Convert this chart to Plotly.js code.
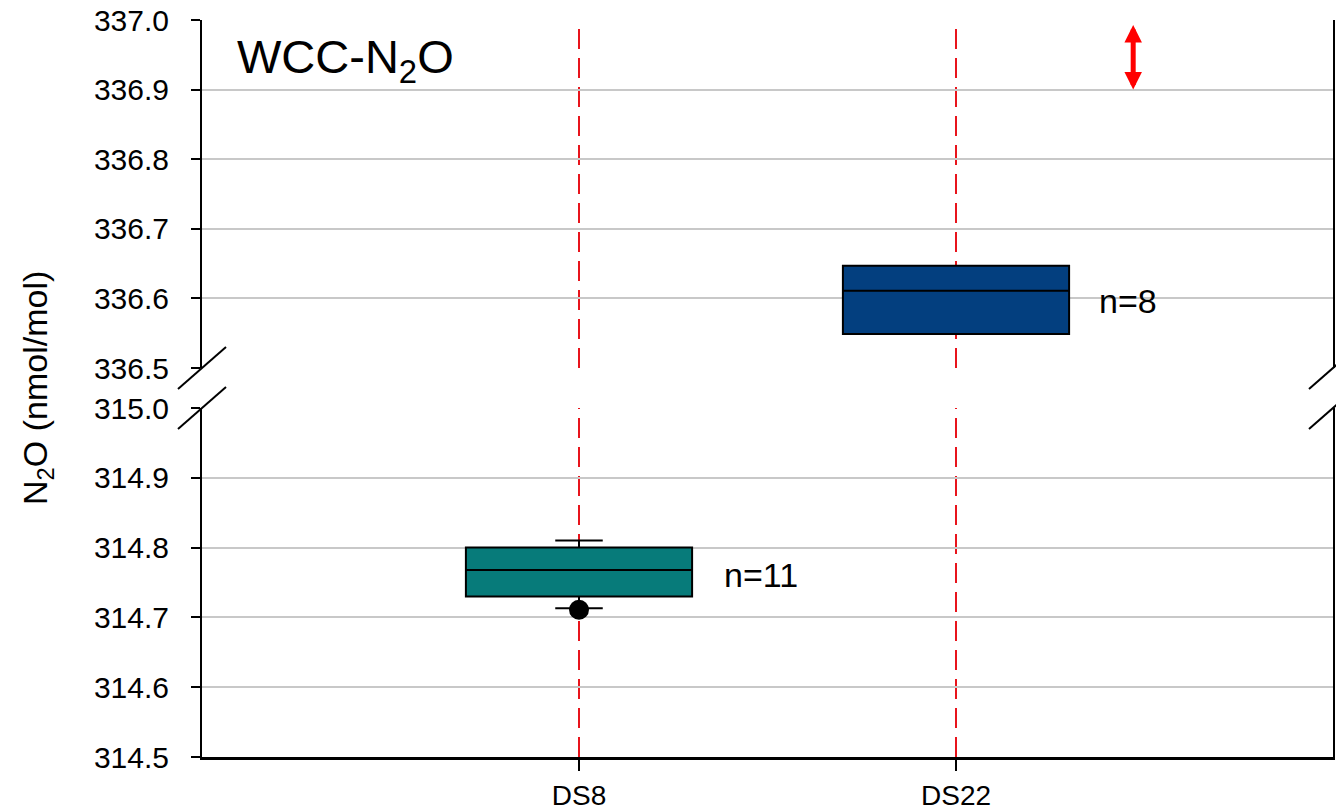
<!DOCTYPE html>
<html>
<head>
<meta charset="utf-8">
<script src="https://cdn.plot.ly/plotly-3.0.1.min.js"></script>
<style>html,body{margin:0;padding:0;background:#fff;}#chart{width:1336px;height:811px;}</style>
</head>
<body>
<div id="chart"></div>
<script>
// ---- data ----
const sites = ['DS8', 'DS22'];
const sitePos = [1, 2];
const q1 = [314.730, 336.549];
const median = [314.768, 336.611];
const q3 = [314.800, 336.647];
const lowerWhisker = [314.713, 336.549];
const upperWhisker = [314.810, 336.647];
const outlierY = [314.711];
const nLabels = ['n=11', 'n=8'];
const fills = ['#077B7A', '#033F7F'];
const upperRange = [336.5, 337.0];
const lowerRange = [314.5, 315.0];

const traces = [];
// DS8 on lower panel
traces.push({
  type: 'box', x: [sitePos[0]], q1: [q1[0]], median: [median[0]], q3: [q3[0]],
  lowerfence: [lowerWhisker[0]], upperfence: [upperWhisker[0]],
  xaxis: 'x', yaxis: 'y', width: 0.6, whiskerwidth: 0.21,
  fillcolor: fills[0], line: {color: '#000', width: 2}, boxpoints: false,
  hoverinfo: 'skip', showlegend: false
});
// DS22 on upper panel
traces.push({
  type: 'box', x: [sitePos[1]], q1: [q1[1]], median: [median[1]], q3: [q3[1]],
  lowerfence: [lowerWhisker[1]], upperfence: [upperWhisker[1]],
  xaxis: 'x', yaxis: 'y2', width: 0.6, whiskerwidth: 0,
  fillcolor: fills[1], line: {color: '#000', width: 2}, boxpoints: false,
  hoverinfo: 'skip', showlegend: false
});
// outlier
traces.push({
  type: 'scatter', mode: 'markers', x: [sitePos[0]], y: outlierY,
  xaxis: 'x', yaxis: 'y', marker: {color: '#000', size: 20},
  hoverinfo: 'skip', showlegend: false
});

const W = 1131, H = 737; // plot area pixels
const dx = 24 / W, dy = 21 / H;
const dTop = (757 - 368) / H, dBot = (757 - 408) / H;

const shapes = [];
// red dashed vertical lines, per panel
sitePos.forEach(p => {
  ['y domain', 'y2 domain'].forEach(r => {
    shapes.push({type: 'line', xref: 'x', yref: r, x0: p, x1: p, y0: 0, y1: 1,
      line: {color: '#e8141c', width: 2, dash: '20px,9px'}, layer: 'below'});
  });
});
// axis break marks
[0, 1].forEach(xp => {
  [dTop, dBot].forEach(yp => {
    shapes.push({type: 'line', xref: 'paper', yref: 'paper',
      x0: xp - dx, y0: yp - dy, x1: xp + dx, y1: yp + dy,
      line: {color: '#000', width: 2}, layer: 'above'});
  });
});

const tickFont = {family: 'Liberation Sans, Arial, sans-serif', size: 30, color: '#000'};
const yCommon = {
  showline: true, linecolor: '#000', linewidth: 2, mirror: true,
  ticks: 'outside', ticklen: 9, tickwidth: 2, tickcolor: '#000',
  dtick: 0.1, tickformat: '.1f', showgrid: true, gridcolor: '#c8c8c8', gridwidth: 2,
  zeroline: false, tickfont: tickFont, ticklabelstandoff: 16, fixedrange: true
};

const layout = {
  width: 1336, height: 811,
  margin: {l: 202, r: 3, t: 20, b: 54},
  paper_bgcolor: '#fff', plot_bgcolor: '#fff',
  showlegend: false,
  xaxis: {
    range: [0, 3], tickvals: sitePos, ticktext: sites, anchor: 'y',
    showline: true, linecolor: '#000', linewidth: 3, mirror: false,
    ticks: 'outside', ticklen: 11, tickwidth: 2, tickcolor: '#000',
    showgrid: false, zeroline: false, ticklabelstandoff: 0,
    tickfont: {family: 'Liberation Sans, Arial, sans-serif', size: 28, color: '#000'}
  },
  yaxis: Object.assign({}, yCommon, {domain: [0, dBot], range: lowerRange, anchor: 'x'}),
  yaxis2: Object.assign({}, yCommon, {domain: [dTop, 1], range: upperRange, anchor: 'x'}),
  shapes: shapes,
  annotations: [
    {xref: 'paper', yref: 'paper', x: 33 / W, y: (757 - 60) / H, xanchor: 'left', yanchor: 'middle',
     text: 'WCC-N<sub>2</sub>O', showarrow: false,
     font: {family: 'Liberation Sans, Arial, sans-serif', size: 47, color: '#000'}},
    {xref: 'paper', yref: 'paper', x: (38 - 202) / W, y: (757 - 388) / H, xanchor: 'center', yanchor: 'middle',
     textangle: -90, text: 'N<sub>2</sub>O (nmol/mol)', showarrow: false,
     font: {family: 'Liberation Sans, Arial, sans-serif', size: 34, color: '#000'}},
    {xref: 'x', yref: 'y', x: sitePos[0] + 0.38, y: 314.761, xanchor: 'left', yanchor: 'middle',
     text: nLabels[0], showarrow: false,
     font: {family: 'Liberation Sans, Arial, sans-serif', size: 34, color: '#000'}},
    {xref: 'x', yref: 'y2', x: sitePos[1] + 0.375, y: 336.596, xanchor: 'left', yanchor: 'middle',
     text: nLabels[1], showarrow: false,
     font: {family: 'Liberation Sans, Arial, sans-serif', size: 34, color: '#000'}},
    {xref: 'x', yref: 'y2', x: 2.47, y: 336.9, axref: 'x', ayref: 'y2', ax: 2.47, ay: 336.995,
     text: '', showarrow: true, arrowside: 'end+start', arrowhead: 2, startarrowhead: 2,
     arrowsize: 0.7, startarrowsize: 0.7, arrowwidth: 5, arrowcolor: '#ff0000'}
  ]
};

Plotly.newPlot('chart', traces, layout, {staticPlot: true, displayModeBar: false});
</script>
</body>
</html>
